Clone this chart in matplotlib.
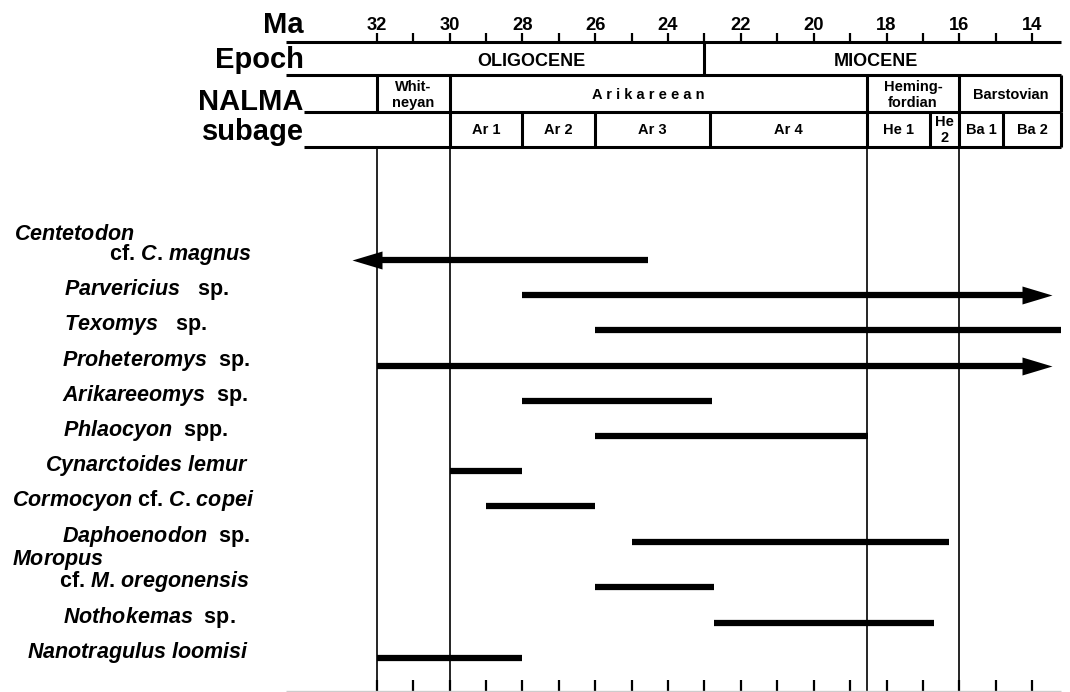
import matplotlib
matplotlib.use("Agg")
import matplotlib.pyplot as plt

plt.rcParams['font.family'] = ['Liberation Sans', 'DejaVu Sans']
plt.rcParams['font.weight'] = 'bold'
plt.rcParams['mathtext.fontset'] = 'custom'
plt.rcParams['mathtext.it'] = 'Liberation Sans:italic:bold'
plt.rcParams['mathtext.rm'] = 'Liberation Sans:bold'
plt.rcParams['mathtext.bf'] = 'Liberation Sans:bold'

# ---------------- data ----------------
species_labels = [
    "$\\mathit{Centetodon}$\n" + " " * 16 + "cf. $\\mathit{C}$. $\\mathit{magnus}$",
    r"$\mathit{Parvericius}$   sp.",
    r"$\mathit{Texomys}$   sp.",
    r"$\mathit{Proheteromys}$  sp.",
    r"$\mathit{Arikareeomys}$  sp.",
    r"$\mathit{Phlaocyon}$  spp.",
    r"$\mathit{Cynarctoides}$ $\mathit{lemur}$",
    r"$\mathit{Cormocyon}$ cf. $\mathit{C}$. $\mathit{copei}$",
    r"$\mathit{Daphoenodon}$  sp.",
    "$\\mathit{Moropus}$\n" + " " * 8 + "cf. $\\mathit{M}$. $\\mathit{oregonensis}$",
    r"$\mathit{Nothokemas}$  sp.",
    r"$\mathit{Nanotragulus}$ $\mathit{loomisi}$",
]
oldest_ma = [32.67, 28.0, 26.0, 32.0, 28.0, 26.0, 30.0, 29.0, 25.0, 26.0, 22.75, 32.0]
youngest_ma = [24.55, 13.45, 13.2, 13.47, 22.8, 18.5, 28.0, 26.0, 16.3, 22.75, 16.7, 28.0]
arrow_to = ['old', 'young', None, 'young', None, None, None, None, None, None, None, None]

tick_ma = list(range(32, 13, -1))
tick_labels = {32: "32", 30: "30", 28: "28", 26: "26", 24: "24", 22: "22",
               20: "20", 18: "18", 16: "16", 14: "14"}

epoch_names = ["OLIGOCENE", "MIOCENE"]
epoch_label_ma = [27.74, 18.3]
epoch_boundaries = [23.0]

nalma_names = ["Whit-\nneyan", "A r i k a r e e a n", "Heming-\nfordian", "Barstovian"]
nalma_label_ma = [31.0, 24.55, 17.275, 14.6]
nalma_boundaries = [32.0, 30.0, 18.55, 16.0, 13.2]

subage_names = ["Ar 1", "Ar 2", "Ar 3", "Ar 4", "He 1", "He\n2", "Ba 1", "Ba 2"]
subage_boundaries = [30.0, 28.0, 26.0, 22.85, 18.55, 16.8, 16.0, 14.8, 13.2]

guide_lines_ma = [32.0, 30.0, 18.55, 16.0]

# ---------------- layout ----------------
W, H = 1070, 692
X_LEFT, X_RIGHT = 42.343, 12.964          # Ma at figure left / right edge
ROW0_PX, ROW_STEP_PX = 260.0, 35.2
TWO_LINE_EXTRA = 0.3                       # extra leading before a two-line label row
LEFT_EDGE_TOP = 34.5
LEFT_EDGE_LOW = 34.0
RIGHT_EDGE = 13.2
AXIS_Y, EPOCH_B, NALMA_B, SUBAGE_B = 41.7, 75.3, 111.7, 146.7
label_x_px = [14, 64, 64, 62, 62, 63, 45, 12, 62, 12, 63, 27]

row_pos = []
pos = 0.0
for i, lab in enumerate(species_labels):
    if i > 0:
        pos += 1.0 + (TWO_LINE_EXTRA if "\n" in lab else 0.0)
    row_pos.append(pos)

fig = plt.figure(figsize=(W / 100, H / 100), dpi=100)
fig.patch.set_facecolor('white')

axh = fig.add_axes([0, 0, 1, 1])
axh.set_xlim(X_LEFT, X_RIGHT)
axh.set_ylim(H, 0)
axh.axis('off')

ax = fig.add_axes([0, 0, 1, 1])
ax.set_xlim(X_LEFT, X_RIGHT)
ax.set_ylim((H - ROW0_PX) / ROW_STEP_PX, -ROW0_PX / ROW_STEP_PX)
ax.axis('off')
ax.patch.set_alpha(0)

HL = 2.2
GL = 1.2

# top axis
axh.hlines(AXIS_Y, LEFT_EDGE_TOP, RIGHT_EDGE, color='black', lw=HL)
axh.vlines(tick_ma, AXIS_Y - 8.5, AXIS_Y, color='black', lw=1.6)
for t in tick_ma:
    if t in tick_labels:
        axh.text(t, 30, tick_labels[t], ha='center', va='baseline', fontsize=13.2, fontweight='bold')

for txt, yb in [("Ma", 33.3), ("Epoch", 68.3), ("NALMA", 110.3), ("subage", 140.3)]:
    axh.text(LEFT_EDGE_LOW, yb, txt, ha='right', va='baseline', fontsize=21, fontweight='bold')

# epoch row
axh.hlines(EPOCH_B, LEFT_EDGE_TOP, RIGHT_EDGE, color='black', lw=HL)
axh.vlines(epoch_boundaries, AXIS_Y, EPOCH_B, color='black', lw=HL)
for name, xm in zip(epoch_names, epoch_label_ma):
    axh.text(xm, 61, name, ha='center', va='center', fontsize=13, fontweight='bold')

# NALMA row
axh.hlines(NALMA_B, LEFT_EDGE_LOW, RIGHT_EDGE, color='black', lw=HL)
axh.vlines(nalma_boundaries, EPOCH_B, NALMA_B, color='black', lw=HL)
for name, xm in zip(nalma_names, nalma_label_ma):
    axh.text(xm, 95, name, ha='center', va='center', fontsize=10.5, fontweight='bold',
             linespacing=1.2)

# subage row
axh.hlines(SUBAGE_B, LEFT_EDGE_LOW, RIGHT_EDGE, color='black', lw=HL)
axh.vlines(subage_boundaries, NALMA_B, SUBAGE_B, color='black', lw=HL)
for i, name in enumerate(subage_names):
    xm = 0.5 * (subage_boundaries[i] + subage_boundaries[i + 1])
    axh.text(xm, 130, name, ha='center', va='center', fontsize=10.5, fontweight='bold',
             linespacing=1.15)

# guide lines
axh.vlines(guide_lines_ma, SUBAGE_B, H, color='black', lw=GL)

# bottom ticks
axh.vlines(tick_ma, H - 12, H, color='black', lw=1.6)
axh.hlines(H - 1.5, LEFT_EDGE_TOP, RIGHT_EDGE, color='#cccccc', lw=1.0)

# ranges
px_per_ma = W / (X_LEFT - X_RIGHT)
head_len_px, head_half_px = 30.0, 9.0
head_ma = head_len_px / px_per_ma
ms = 2 * head_len_px * 72 / 100
right_head = [(0, 0), (-1, head_half_px / head_len_px), (-1, -head_half_px / head_len_px), (0, 0)]
left_head = [(0, 0), (1, head_half_px / head_len_px), (1, -head_half_px / head_len_px), (0, 0)]

for y, old, young, arr in zip(row_pos, oldest_ma, youngest_ma, arrow_to):
    x0, x1 = old, young
    if arr == 'old':
        x0 = old - head_ma * 0.8
        ax.plot([old], [y], marker=left_head, ms=ms, color='black', mew=0, linestyle='none')
    elif arr == 'young':
        x1 = young + head_ma * 0.8
        ax.plot([young], [y], marker=right_head, ms=ms, color='black', mew=0, linestyle='none')
    ax.plot([x0, x1], [y, y], color='black', lw=4.5, solid_capstyle='butt')

# species labels (baseline of last line sits on the bar)
ytr = ax.get_yaxis_transform()
for y, lab, xpx in zip(row_pos, species_labels, label_x_px):
    ax.text(xpx / W, y, lab, transform=ytr, ha='left', va='baseline',
            fontsize=15.5, fontweight='bold', linespacing=0.86)

fig.savefig("out.png", dpi=100, facecolor='white')
